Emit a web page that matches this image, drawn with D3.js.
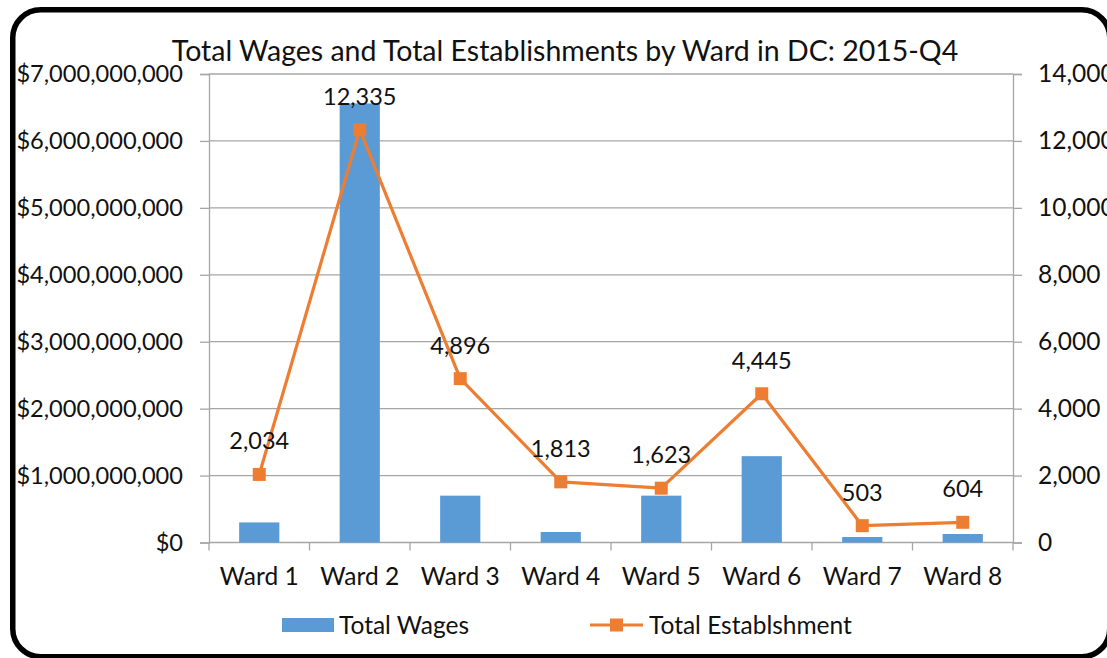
<!DOCTYPE html>
<html>
<head>
<meta charset="utf-8">
<script src="https://cdn.jsdelivr.net/npm/d3@7"></script>
<style>
  html, body { margin: 0; padding: 0; background: #fff; }
  svg { display: block; }
  text { font-family: Lato, "Open Sans", sans-serif; fill: #111; }
</style>
</head>
<body>
<svg id="chart" width="1107" height="658"></svg>
<script>
var wards = ["Ward 1", "Ward 2", "Ward 3", "Ward 4", "Ward 5", "Ward 6", "Ward 7", "Ward 8"];
var totalWages = [300000000, 6560000000, 700000000, 157000000, 700000000, 1290000000, 82000000, 127000000];
var establishments = [2034, 12335, 4896, 1813, 1623, 4445, 503, 604];
var wageTicks = [0, 1e9, 2e9, 3e9, 4e9, 5e9, 6e9, 7e9];
var estTicks = [0, 2000, 4000, 6000, 8000, 10000, 12000, 14000];

var blue = "#5b9bd5", orange = "#ed7d31", gridColor = "#a6a6a6";
var labelSize = "24.5px";

var svg = d3.select("#chart");
var plotLeft = 209, plotRight = 1013, plotTop = 74, plotBottom = 542.5;

var x = d3.scaleBand().domain(wards).range([plotLeft, plotRight]);
var yL = d3.scaleLinear().domain([0, 7e9]).range([plotBottom, plotTop]);
var yR = d3.scaleLinear().domain([0, 14000]).range([plotBottom, plotTop]);

// frame
svg.append("rect")
  .attr("x", 12.75).attr("y", 9.75)
  .attr("width", 1097).attr("height", 647)
  .attr("rx", 28).attr("ry", 28)
  .attr("fill", "#fff")
  .attr("stroke", "#000")
  .attr("stroke-width", 5.5);

// title
svg.append("text")
  .attr("x", 565).attr("y", 61)
  .attr("text-anchor", "middle")
  .style("font-size", "28.5px")
  .attr("fill", "#000")
  .text("Total Wages and Total Establishments by Ward in DC: 2015-Q4");

// gridlines
svg.append("g").selectAll("line")
  .data(wageTicks.slice(1))
  .join("line")
  .attr("x1", plotLeft).attr("x2", plotRight)
  .attr("y1", d => yL(d)).attr("y2", d => yL(d))
  .attr("stroke", gridColor).attr("stroke-width", 1.3);

// left axis
var axisL = svg.append("g")
  .attr("transform", "translate(" + plotLeft + ",0)")
  .call(d3.axisLeft(yL).tickValues(wageTicks).tickSize(9).tickPadding(17)
    .tickFormat(d => "$" + d3.format(",")(d)));

// right axis
var axisR = svg.append("g")
  .attr("transform", "translate(" + plotRight + ",0)")
  .call(d3.axisRight(yR).tickValues(estTicks).tickSize(9).tickPadding(16)
    .tickFormat(d3.format(",")));

// bottom axis
var axisB = svg.append("g")
  .attr("transform", "translate(0," + plotBottom + ")")
  .call(d3.axisBottom(x).tickSize(0).tickPadding(25));

axisB.selectAll(".tick-sep")
  .data(d3.range(wards.length + 1))
  .join("line")
  .attr("class", "tick-sep")
  .attr("x1", i => plotLeft + i * x.step()).attr("x2", i => plotLeft + i * x.step())
  .attr("y1", 0).attr("y2", 8);

[axisL, axisR, axisB].forEach(function(a) {
  a.selectAll("path.domain").attr("stroke", gridColor).attr("stroke-width", 1.3);
  a.selectAll("line").attr("stroke", gridColor).attr("stroke-width", 1.3);
  a.selectAll("text").style("font-size", labelSize).style("font-family", "Lato, sans-serif").attr("fill", "#222");
});
axisL.selectAll("text").style("font-size", "23.6px");
axisB.select("path.domain").attr("d", "M" + plotLeft + ",0H" + plotRight);

// bars
var bw = x.bandwidth() * 0.4;
svg.append("g").selectAll("rect")
  .data(totalWages)
  .join("rect")
  .attr("x", (d, i) => x(wards[i]) + x.bandwidth() / 2 - bw / 2)
  .attr("y", d => yL(d))
  .attr("width", bw)
  .attr("height", d => plotBottom - yL(d))
  .attr("fill", blue);

// line
var line = d3.line()
  .x((d, i) => x(wards[i]) + x.bandwidth() / 2)
  .y(d => yR(d));

svg.append("path")
  .datum(establishments)
  .attr("d", line)
  .attr("fill", "none")
  .attr("stroke", orange)
  .attr("stroke-width", 3.2)
  .attr("stroke-linejoin", "round");

var ms = 13;
svg.append("g").selectAll("rect")
  .data(establishments)
  .join("rect")
  .attr("x", (d, i) => x(wards[i]) + x.bandwidth() / 2 - ms / 2)
  .attr("y", d => yR(d) - ms / 2)
  .attr("width", ms).attr("height", ms)
  .attr("fill", orange);

// data labels
svg.append("g").selectAll("text")
  .data(establishments)
  .join("text")
  .attr("x", (d, i) => x(wards[i]) + x.bandwidth() / 2)
  .attr("y", d => yR(d) - 25)
  .attr("text-anchor", "middle")
  .style("font-size", "23.5px")
  .attr("fill", "#000")
  .text(d => d3.format(",")(d));

// legend
var lg = svg.append("g");
lg.append("rect")
  .attr("x", 282).attr("y", 618).attr("width", 52).attr("height", 14)
  .attr("fill", blue);
lg.append("text")
  .attr("x", 339).attr("y", 634)
  .style("font-size", labelSize)
  .attr("fill", "#222")
  .text("Total Wages");
lg.append("line")
  .attr("x1", 590).attr("x2", 643).attr("y1", 625).attr("y2", 625)
  .attr("stroke", orange).attr("stroke-width", 3.2);
lg.append("rect")
  .attr("x", 610).attr("y", 618.5).attr("width", ms).attr("height", ms)
  .attr("fill", orange);
lg.append("text")
  .attr("x", 649).attr("y", 634)
  .style("font-size", labelSize)
  .attr("fill", "#222")
  .text("Total Establshment");
</script>
</body>
</html>
